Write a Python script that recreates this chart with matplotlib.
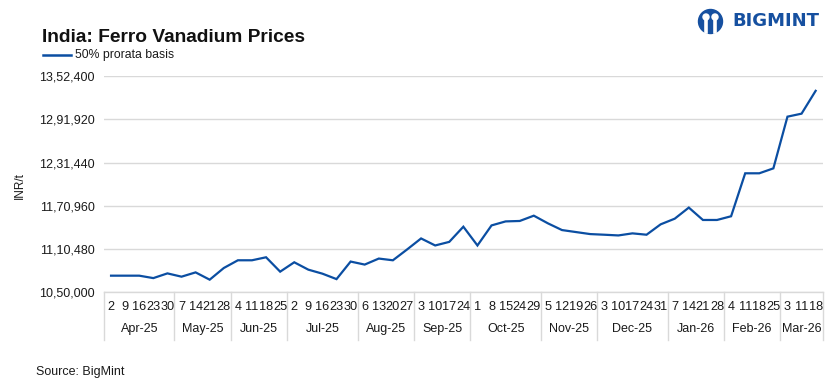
import matplotlib
matplotlib.use('Agg')
import matplotlib.pyplot as plt
import matplotlib.transforms as mtransforms
from matplotlib.patches import Circle, Ellipse

# weekly assessment dates, grouped by month
months = ['Apr-25', 'May-25', 'Jun-25', 'Jul-25', 'Aug-25', 'Sep-25',
          'Oct-25', 'Nov-25', 'Dec-25', 'Jan-26', 'Feb-26', 'Mar-26']
days = [
    [2, 9, 16, 23, 30],
    [7, 14, 21, 28],
    [4, 11, 18, 25],
    [2, 9, 16, 23, 30],
    [6, 13, 20, 27],
    [3, 10, 17, 24],
    [1, 8, 15, 24, 29],
    [5, 12, 19, 26],
    [3, 10, 17, 24, 31],
    [7, 14, 21, 28],
    [4, 11, 18, 25],
    [3, 11, 18],
]

# INR/t, 50% prorata basis
prices = [
    1073500, 1073500, 1073500, 1070100, 1076700,
    1072100, 1078100, 1067900, 1084200,
    1095000, 1095000, 1099200, 1079100,
    1092200, 1081900, 1076300, 1068700, 1093200,
    1089000, 1097400, 1095000, 1110000,
    1125500, 1115700, 1120700, 1141900,
    1115700, 1143700, 1149300, 1149900, 1157300,
    1146600, 1137200, 1134400, 1131600,
    1130700, 1129700, 1132600, 1130700, 1145200,
    1153100, 1168600, 1151300, 1151300,
    1156500, 1216500, 1216500, 1223400,
    1295600, 1299800, 1331700,
]

y_ticks = [1050000, 1110480, 1170960, 1231440, 1291920, 1352400]

LINE = '#0b4ea2'
GRID = '#d9d9d9'
TXT = '#1a1a1a'


def indian_format(x, pos=None):
    s = str(int(round(x)))
    head, tail = s[:-3], s[-3:]
    parts = []
    while len(head) > 2:
        parts.insert(0, head[-2:])
        head = head[:-2]
    if head:
        parts.insert(0, head)
    return ','.join(parts + [tail])


plt.rcParams['font.family'] = ['Liberation Sans', 'DejaVu Sans']

fig = plt.figure(figsize=(8.38, 3.86), dpi=100)
ax = fig.add_axes([0.12411, 0.24223, 0.85763, 0.56088])

x = list(range(len(prices)))
ax.plot(x, prices, color=LINE, lw=1.6, solid_joinstyle='miter')

ax.set_xlim(-0.5, len(prices) - 0.5)
ax.set_ylim(y_ticks[0], y_ticks[-1])
ax.set_yticks(y_ticks)
ax.yaxis.set_major_formatter(indian_format)
ax.tick_params(axis='y', length=0, pad=6.5, labelsize=9, labelcolor=TXT)
ax.set_xticks([])
ax.grid(axis='y', color=GRID, lw=1)
ax.set_axisbelow(True)
for side in ['left', 'right', 'top']:
    ax.spines[side].set_visible(False)
ax.spines['bottom'].set_color(GRID)
ax.spines['bottom'].set_linewidth(1)

# two-level category axis: day numbers, then month names in boxes
trans = mtransforms.blended_transform_factory(ax.transData, ax.transAxes)
i = 0
edges = [-0.5]
for m, ds in zip(months, days):
    start = i
    for d in ds:
        ax.annotate(str(d), (i, 0), xycoords=trans, xytext=(0, -10.3),
                    textcoords='offset points', ha='center', va='center',
                    fontsize=9.2, color=TXT, annotation_clip=False)
        i += 1
    mid = (start + i - 1) / 2
    ax.annotate(m, (mid, 0), xycoords=trans, xytext=(0, -26.3),
                textcoords='offset points', ha='center', va='center',
                fontsize=9, color=TXT, annotation_clip=False)
    edges.append(i - 0.5)
for e in edges:
    ax.plot([e, e], [0, -0.2194], transform=trans, color=GRID, lw=1,
            clip_on=False)

# titles and legend
fig.text(42 / 838, 1 - 42.3 / 386, 'India: Ferro Vanadium Prices',
         fontsize=13.8, fontweight='bold', color='#111111', va='baseline')
fig.add_artist(plt.Line2D([42.7 / 838, 70.7 / 838], [1 - 55 / 386] * 2,
                          color=LINE, lw=1.8))
fig.text(75 / 838, 1 - 55 / 386, '50% prorata basis', fontsize=8.8,
         color=TXT, va='center')
fig.text(20.3 / 838, 1 - 186 / 386, 'INR/t', rotation=90, fontsize=8.5,
         color=TXT, ha='center', va='center')
fig.text(36 / 838, 1 - 372.3 / 386, 'Source: BigMint', fontsize=9,
         color=TXT, va='center')

# BIGMINT logo (approximation)
logo = '#1650a0'
cx, cy = 710.5 / 838, 1 - 21.5 / 386
rx, ry = 12 / 838, 12 / 386
fig.add_artist(Ellipse((cx, cy), 2 * rx, 2 * ry, transform=fig.transFigure,
                       color=logo))
for dx in (-4.5, 4.5):
    fig.add_artist(Ellipse((cx + dx / 838, cy + 4.5 / 386), 6 / 838, 6 / 386,
                           transform=fig.transFigure, color='white'))
    fig.add_artist(plt.Line2D([cx + dx / 838] * 2,
                              [cy - 10 / 386, cy + 0.5 / 386],
                              color='white', lw=2.6))
fig.text(732.7 / 838, 1 - 21.5 / 386, 'BIGMINT', fontsize=13,
         fontweight='bold', family='DejaVu Sans', color=logo, va='center')

fig.savefig('out.png', dpi=100, facecolor='white')
